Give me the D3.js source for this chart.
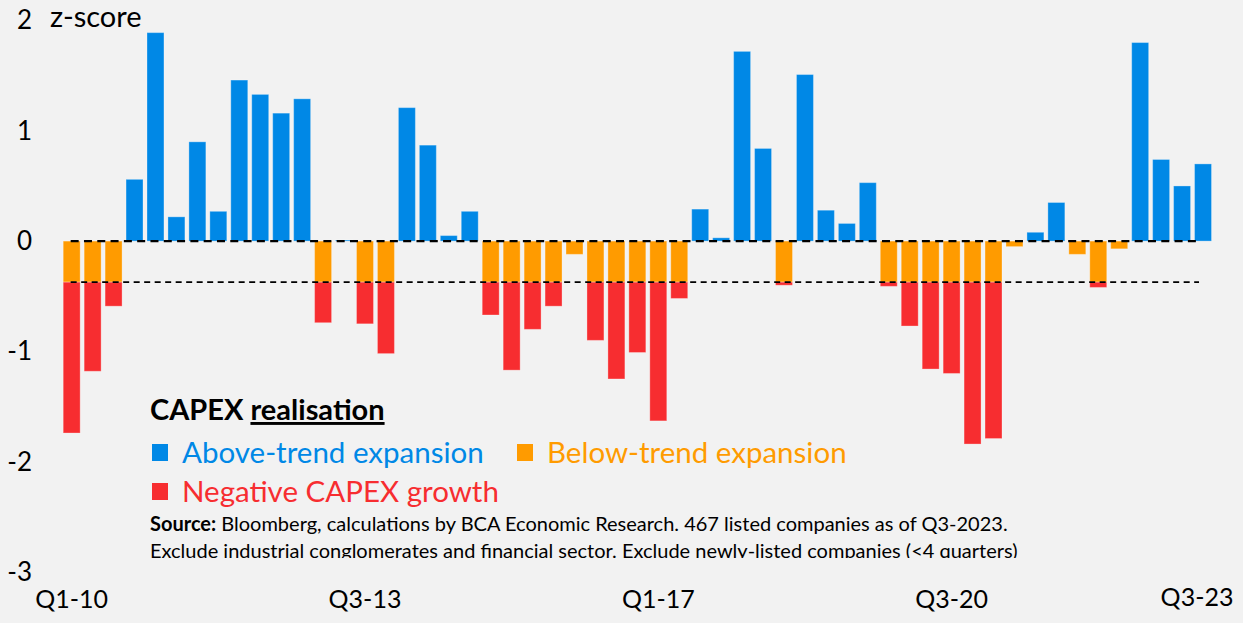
<!DOCTYPE html>
<html lang="en">
<head>
<meta charset="utf-8">
<title>CAPEX realisation</title>
<script src="https://d3js.org/d3.v7.min.js"></script>
<style>
  html, body { margin: 0; padding: 0; background: #f2f2f2; }
  body { font-family: 'Lato', 'Open Sans', sans-serif; }
  svg text { fill: #000; }
</style>
</head>
<body>
<div id="chart"></div>
<script>
// quarters Q1-2010 .. Q3-2023
var quarters = [
  "Q1-10","Q2-10","Q3-10","Q4-10","Q1-11","Q2-11","Q3-11","Q4-11",
  "Q1-12","Q2-12","Q3-12","Q4-12","Q1-13","Q2-13","Q3-13","Q4-13",
  "Q1-14","Q2-14","Q3-14","Q4-14","Q1-15","Q2-15","Q3-15","Q4-15",
  "Q1-16","Q2-16","Q3-16","Q4-16","Q1-17","Q2-17","Q3-17","Q4-17",
  "Q1-18","Q2-18","Q3-18","Q4-18","Q1-19","Q2-19","Q3-19","Q4-19",
  "Q1-20","Q2-20","Q3-20","Q4-20","Q1-21","Q2-21","Q3-21","Q4-21",
  "Q1-22","Q2-22","Q3-22","Q4-22","Q1-23","Q2-23","Q3-23"
];

// capex z-score per quarter
var zscore = [
  -1.74, -1.18, -0.59,  0.56,  1.89,  0.22,  0.90,  0.27,
   1.46,  1.33,  1.16,  1.29, -0.74,  0.01, -0.75, -1.02,
   1.21,  0.87,  0.05,  0.27, -0.67, -1.17, -0.80, -0.59,
  -0.12, -0.90, -1.25, -1.01, -1.63, -0.52,  0.29,  0.03,
   1.72,  0.84, -0.40,  1.51,  0.28,  0.16,  0.53, -0.41,
  -0.77, -1.16, -1.20, -1.84, -1.79, -0.05,  0.08,  0.35,
  -0.12, -0.42, -0.07,  1.80,  0.74,  0.50,  0.70
];

// trend threshold (dashed line)
var trend = -0.372;

var xTickLabels = ["Q1-10", "Q3-13", "Q1-17", "Q3-20", "Q3-23"];
var yTicks = [2, 1, 0, -1, -2, -3];

var legendItems = [
  { label: "Above-trend expansion", color: "#0088e6" },
  { label: "Below-trend expansion", color: "#ff9b00" },
  { label: "Negative CAPEX growth", color: "#f72d30" }
];

var width = 1243, height = 623;
var blue = "#0088e6", orange = "#ff9b00", red = "#f72d30";

var svg = d3.select("#chart").append("svg")
    .attr("width", width)
    .attr("height", height);

svg.append("rect").attr("width", width).attr("height", height).attr("fill", "#f2f2f2");

var x = d3.scaleBand()
    .domain(quarters)
    .range([61.2, 1213.5])
    .paddingInner(0.19)
    .paddingOuter(0.095);

var y = d3.scaleLinear()
    .domain([-3, 2])
    .range([572, 20.5]);

// build segments: blue above 0, orange 0..trend, red below trend
var segs = [];
quarters.forEach(function(q, i) {
  var v = zscore[i];
  if (v >= 0) {
    segs.push({ q: q, y0: 0, y1: v, c: blue });
  } else {
    segs.push({ q: q, y0: 0, y1: Math.max(v, trend), c: orange });
    if (v < trend) segs.push({ q: q, y0: trend, y1: v, c: red });
  }
});

svg.append("g").selectAll("rect")
    .data(segs)
    .enter().append("rect")
    .attr("x", function(d) { return x(d.q); })
    .attr("width", x.bandwidth())
    .attr("y", function(d) { return y(Math.max(d.y0, d.y1)); })
    .attr("height", function(d) { return Math.abs(y(d.y0) - y(d.y1)); })
    .attr("fill", function(d) { return d.c; })
    .attr("stroke", "#ffffff")
    .attr("stroke-opacity", 0.3)
    .attr("stroke-width", 1);

// dashed lines from first to last quarter centre
var xa = x(quarters[0]) + x.bandwidth() / 2 - 1;
var xb = x(quarters[quarters.length - 1]) + x.bandwidth() / 2 - 4;

svg.append("line")
    .attr("x1", xa).attr("x2", xb)
    .attr("y1", y(trend)).attr("y2", y(trend))
    .attr("stroke", "#000")
    .attr("stroke-width", 1.6)
    .attr("stroke-dasharray", "6,4.5");

svg.append("line")
    .attr("x1", xa).attr("x2", xb)
    .attr("y1", y(0)).attr("y2", y(0))
    .attr("stroke", "#000")
    .attr("stroke-width", 2.4)
    .attr("stroke-dasharray", "8,5.3");

// y axis
var yAxis = d3.axisLeft(y).tickValues(yTicks).tickSize(0).tickPadding(0)
    .tickFormat(function(d) { return String(d); });
var gy = svg.append("g").attr("transform", "translate(32,0)").call(yAxis);
gy.select(".domain").remove();
gy.selectAll("text")
    .attr("font-family", "Lato, sans-serif")
    .attr("font-size", 26)
    .attr("fill", "#000");

svg.append("text")
    .attr("x", 50).attr("y", 27)
    .attr("font-size", 29)
    .text("z-score");

// x axis
var xAxis = d3.axisBottom(x).tickValues(xTickLabels).tickSize(0).tickPadding(0);
var gx = svg.append("g").attr("transform", "translate(0,590)").call(xAxis);
gx.select(".domain").remove();
gx.selectAll("text")
    .attr("font-family", "Lato, sans-serif")
    .attr("font-size", 25)
    .attr("fill", "#000");
gx.selectAll(".tick").filter(function(d) { return d === "Q3-23"; })
    .select("text").attr("dx", -6).attr("dy", "0.62em");

// legend
var lg = svg.append("g");
var title = lg.append("text")
    .attr("x", 150).attr("y", 420)
    .attr("font-size", 29)
    .attr("font-weight", "bold");
title.append("tspan").text("CAPEX ");
title.append("tspan").attr("text-decoration", "underline").text("realisation");

var legPos = [[152, 453], [517, 453], [152, 492]];
legendItems.forEach(function(it, i) {
  var p = legPos[i];
  lg.append("rect")
    .attr("x", p[0]).attr("y", p[1] - 9)
    .attr("width", 16).attr("height", 17)
    .attr("fill", it.color);
  lg.append("text")
    .attr("x", p[0] + 30).attr("y", p[1] + 10)
    .attr("font-size", 29.5)
    .attr("fill", it.color)
    .style("fill", it.color)
    .text(it.label);
});

// source note (second line clipped like the original)
svg.append("clipPath").attr("id", "noteclip")
  .append("rect").attr("x", 0).attr("y", 500).attr("width", width).attr("height", 58);

var note = svg.append("g").attr("clip-path", "url(#noteclip)");
var l1 = note.append("text").attr("x", 150).attr("y", 531).attr("font-size", 20);
l1.append("tspan").attr("font-weight", "bold").text("Source:");
l1.append("tspan").text(" Bloomberg, calculations by BCA Economic Research. 467 listed companies as of Q3-2023.");
note.append("text").attr("x", 150).attr("y", 558).attr("font-size", 20)
    .text("Exclude industrial conglomerates and financial sector. Exclude newly-listed companies (<4 quarters)");
</script>
</body>
</html>
